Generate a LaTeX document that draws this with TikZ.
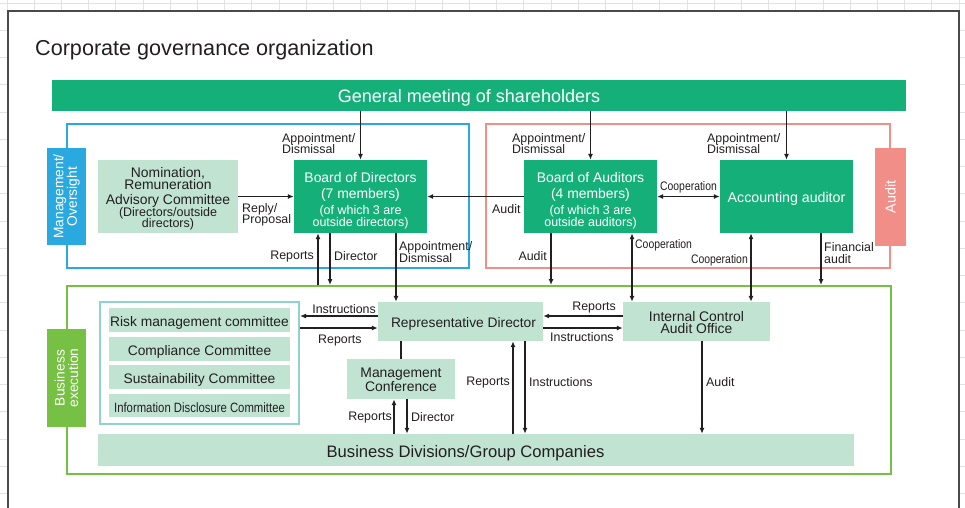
\documentclass[tikz,border=0pt]{standalone}
\usepackage{fontspec}
\setmainfont{Liberation Sans}
\usetikzlibrary{arrows.meta}
\definecolor{dgreen}{HTML}{15B07A}
\definecolor{lgreen}{HTML}{C0E3D2}
\definecolor{mblue}{HTML}{29A9E0}
\definecolor{mpink}{HTML}{F28E88}
\definecolor{lime}{HTML}{76C043}
\definecolor{teal}{HTML}{8ED3CF}
\definecolor{ink}{HTML}{231F20}
\definecolor{gridc}{HTML}{E2E2E2}
\definecolor{framec}{HTML}{4A4A4A}
\newcommand\fsz[2]{\fontsize{#1}{#2}\selectfont}
\newcommand\cond[1]{\scalebox{0.84}[1]{#1}}
\newcommand\smalltxt[1]{{\fsz{12.5}{12}#1}}
\tikzset{
  box/.style={inner sep=0pt},
  dbox/.style={box, fill=dgreen},
  lbox/.style={box, fill=lgreen},
  txt/.style={inner sep=0pt, align=center, text=ink},
  wtxt/.style={txt, text=white},
  frm/.style={inner sep=0pt, line width=2pt},
  tag/.style={inner sep=0pt, align=center, text=white, rotate=90},
  lbl/.style={inner sep=0pt, align=left, text=ink, font=\fsz{12.4}{11.6}},
  arr/.style={draw=ink, line width=1.4pt, -{Latex[length=6pt,width=5pt]}},
  darr/.style={draw=ink, line width=1.4pt, {Latex[length=6pt,width=5pt]}-{Latex[length=6pt,width=5pt]}},
  pline/.style={draw=ink, line width=1.4pt}
}
\begin{document}
\begin{tikzpicture}[x=1pt,y=-1pt]
\useasboundingbox (0,0) rectangle (965,507);
% background grid
\foreach \i in {0,...,35} {\draw[gridc, line width=0.8pt] (7+27.2*\i,0) -- (7+27.2*\i,507);}
\foreach \j in {0,...,18} {\draw[gridc, line width=0.8pt] (0,3+27.25*\j) -- (965,3+27.25*\j);}
\fill[white] (8,11) rectangle (959,512);
\draw[framec, line width=1.3pt] (8,512) -- (8,11) -- (959,11) -- (959,512);

% title
\node[anchor=base west, inner sep=0pt, text=ink, font=\fsz{21.6}{24}] (title) at (35,55) {Corporate governance organization};

% top bar
\node[dbox, minimum width=854, minimum height=31] (gm) at (479,95.5) {};
\node[wtxt, font=\fsz{18}{20}] (gmt) at ([xshift=-10,yshift=-2]gm.center) {General meeting of shareholders};

% frames
\node[frm, draw=mblue, minimum width=402, minimum height=144] (mgmt) at (268,196) {};
\node[frm, draw=mpink, minimum width=404, minimum height=144] (audf) at (688,196) {};
\node[frm, draw=lime, minimum width=824, minimum height=188] (exec) at (479,380) {};

% tags
\node[fill=mblue, minimum width=39, minimum height=97, inner sep=0pt] (mtag) at (66.5,196.5) {};
\node[tag, font=\fsz{13.8}{13.6}] (mtagt) at (mtag) {Management/\\Oversight};
\node[fill=mpink, minimum width=31, minimum height=98, inner sep=0pt] (atag) at (890.5,197) {};
\node[tag, font=\fsz{14.3}{14}] (atagt) at (atag) {Audit};
\node[fill=lime, minimum width=39, minimum height=98, inner sep=0pt] (etag) at (66.5,378) {};
\node[tag, font=\fsz{13.8}{13.6}] (etagt) at (etag) {Business\\execution};

% upper boxes
\node[lbox, minimum width=140, minimum height=73] (nom) at (168,196.5) {};
\node[txt, font=\fsz{13.9}{12.3}] (nomt) at ([yshift=-2.5]nom.center)
  {Nomination,\\Remuneration\\[2.5pt]Advisory Committee\\\smalltxt{(Directors/outside}\\[-1.3pt]\smalltxt{directors)}};
\node[dbox, minimum width=133, minimum height=73] (bod) at (360.5,196.5) {};
\node[wtxt, font=\fsz{13.9}{16}] (bodt) at ([yshift=-4]bod.center)
  {Board of Directors\\(7 members)\\\smalltxt{(of which 3 are}\\[-4pt]\smalltxt{outside directors)}};
\node[dbox, minimum width=133, minimum height=73] (boa) at (590.5,196.5) {};
\node[wtxt, font=\fsz{13.9}{16}] (boat) at ([yshift=-4]boa.center)
  {Board of Auditors\\(4 members)\\\smalltxt{(of which 3 are}\\[-4pt]\smalltxt{outside auditors)}};
\node[dbox, minimum width=133, minimum height=73] (aa) at (786.5,196.5) {};
\node[wtxt, font=\fsz{14.2}{16}] (aat) at ([yshift=-2.5]aa.center) {Accounting auditor};

% lower boxes
\node[frm, draw=teal, minimum width=199, minimum height=122] (grp) at (199.5,363) {};
\node[lbox, minimum width=181, minimum height=24] (risk) at (199.5,320) {};
\node[txt, font=\fsz{13.8}{14}] (riskt) at ([yshift=-3]risk.center) {Risk management committee};
\node[lbox, minimum width=181, minimum height=24] (comp) at (199.5,349) {};
\node[txt, font=\fsz{13.8}{14}] (compt) at ([yshift=-3]comp.center) {Compliance Committee};
\node[lbox, minimum width=181, minimum height=24] (sust) at (199.5,377) {};
\node[txt, font=\fsz{13.8}{14}] (sustt) at ([yshift=-3]sust.center) {Sustainability Committee};
\node[lbox, minimum width=181, minimum height=23] (info) at (199.5,405.5) {};
\node[txt, font=\fsz{13.5}{14}] (infot) at ([yshift=-2.5]info.center) {\cond{Information Disclosure Committee}};

\node[lbox, minimum width=165, minimum height=39] (rep) at (460.5,321.5) {};
\node[txt, font=\fsz{13.8}{14}] (rept) at ([xshift=3,yshift=-2.5]rep.center) {Representative Director};
\node[lbox, minimum width=108, minimum height=40] (mc) at (401,379) {};
\node[txt, font=\fsz{13.9}{12.8}] (mct) at ([yshift=-1]mc.center) {Management\\Conference};
\node[lbox, minimum width=147, minimum height=39] (icao) at (696.5,321.5) {};
\node[txt, font=\fsz{13.9}{12.4}] (icaot) at ([yshift=-1]icao.center) {Internal Control\\Audit Office};
\node[lbox, minimum width=756, minimum height=32] (bdgc) at (476,450) {};
\node[txt, font=\fsz{16.6}{18}] (bdgct) at ([xshift=-10.5,yshift=-3]bdgc.center) {Business Divisions/Group Companies};

% connectors: general meeting
\draw[arr] (gm.south -| bod.north) -- (bod.north);
\node[lbl, anchor=north west] (l1) at (282,133) {Appointment/\\Dismissal};
\draw[arr] (gm.south -| boa.north) -- (boa.north);
\node[lbl, anchor=north west] (l2) at (512,133) {Appointment/\\Dismissal};
\draw[arr] (gm.south -| aa.north) -- (aa.north);
\node[lbl, anchor=north west] (l3) at (707,133) {Appointment/\\Dismissal};

% horizontal in upper area
\draw[arr] (nom.east) -- (bod.west);
\node[lbl, anchor=north west] (l4) at (242,203) {Reply/\\Proposal};
\draw[arr] (boa.west) -- (bod.east);
\node[lbl, anchor=north west] (l5) at (492,204) {Audit};
\draw[darr] (boa.east) -- (aa.west);
\node[lbl, anchor=south, font=\fsz{12.4}{12}] (l6) at (688.5,193) {\cond{Cooperation}};

% board of directors down
\draw[arr] ([xshift=-42.5]bod.south |- exec.north) -- ([xshift=-42.5]bod.south);
\node[lbl, anchor=east] (l7) at (314,256.5) {Reports};
\draw[arr] ([xshift=-30.5]bod.south) -- ([xshift=-30.5]bod.south |- exec.north);
\node[lbl, anchor=west] (l8) at (334,256.5) {Director};
\draw[arr] ([xshift=35.5]bod.south) -- ([xshift=35.5]bod.south |- rep.north);
\node[lbl, anchor=north west] (l9) at (399,241.5) {Appointment/\\Dismissal};

% board of auditors down
\draw[arr] ([xshift=-39.5]boa.south) -- ([xshift=-39.5]boa.south |- exec.north);
\node[lbl, anchor=east] (l10) at (547,256.5) {Audit};
\draw[darr] ([xshift=41.5]boa.south) -- ([xshift=41.5]boa.south |- icao.north);
\node[lbl, anchor=west, font=\fsz{12.4}{12}] (l11) at (635,245.5) {\cond{Cooperation}};

% accounting auditor down
\draw[darr] ([xshift=-35.5]aa.south) -- ([xshift=-35.5]aa.south |- icao.north);
\node[lbl, anchor=east, font=\fsz{12.4}{12}] (l12) at (748,260.5) {\cond{Cooperation}};
\draw[arr] ([xshift=34.5]aa.south) -- ([xshift=34.5]aa.south |- exec.north);
\node[lbl, anchor=north west] (l13) at (824,242.5) {Financial\\audit};

% representative director and committees
\draw[arr] ([yshift=5.5]rep.west) -- ([yshift=5.5]rep.west -| grp.east);
\node[lbl, anchor=south east] (l14) at (376,313.5) {Instructions};
\draw[arr] ([yshift=-6.5]rep.west -| grp.east) -- ([yshift=-6.5]rep.west);
\node[lbl, anchor=north west] (l15) at (318,334.5) {Reports};

% representative director and internal control
\draw[arr] ([yshift=5.5]icao.west) -- ([yshift=5.5]rep.east);
\node[lbl, anchor=south east] (l16) at (616,313.5) {Reports};
\draw[arr] ([yshift=-6.5]rep.east) -- ([yshift=-6.5]icao.west);
\node[lbl, anchor=north west] (l17) at (550,332.5) {Instructions};

% management conference
\draw[pline] (mc.north |- rep.south) -- (mc.north);
\draw[arr] ([xshift=-7]mc.south |- bdgc.north) -- ([xshift=-7]mc.south);
\node[lbl, anchor=east] (l18) at (392,417.5) {Reports};
\draw[arr] ([xshift=6]mc.south) -- ([xshift=6]mc.south |- bdgc.north);
\node[lbl, anchor=west] (l19) at (411,417.5) {Director};

% representative director and business divisions
\draw[arr] ([xshift=52.5]rep.south |- bdgc.north) -- ([xshift=52.5]rep.south);
\node[lbl, anchor=east] (l20) at (510,382.5) {Reports};
\draw[arr] ([xshift=64.5]rep.south) -- ([xshift=64.5]rep.south |- bdgc.north);
\node[lbl, anchor=west] (l21) at (529,382.5) {Instructions};

% internal control audit
\draw[arr] ([xshift=5.5]icao.south) -- ([xshift=5.5]icao.south |- bdgc.north);
\node[lbl, anchor=west] (l22) at (706,382.5) {Audit};
\end{tikzpicture}
\end{document}
